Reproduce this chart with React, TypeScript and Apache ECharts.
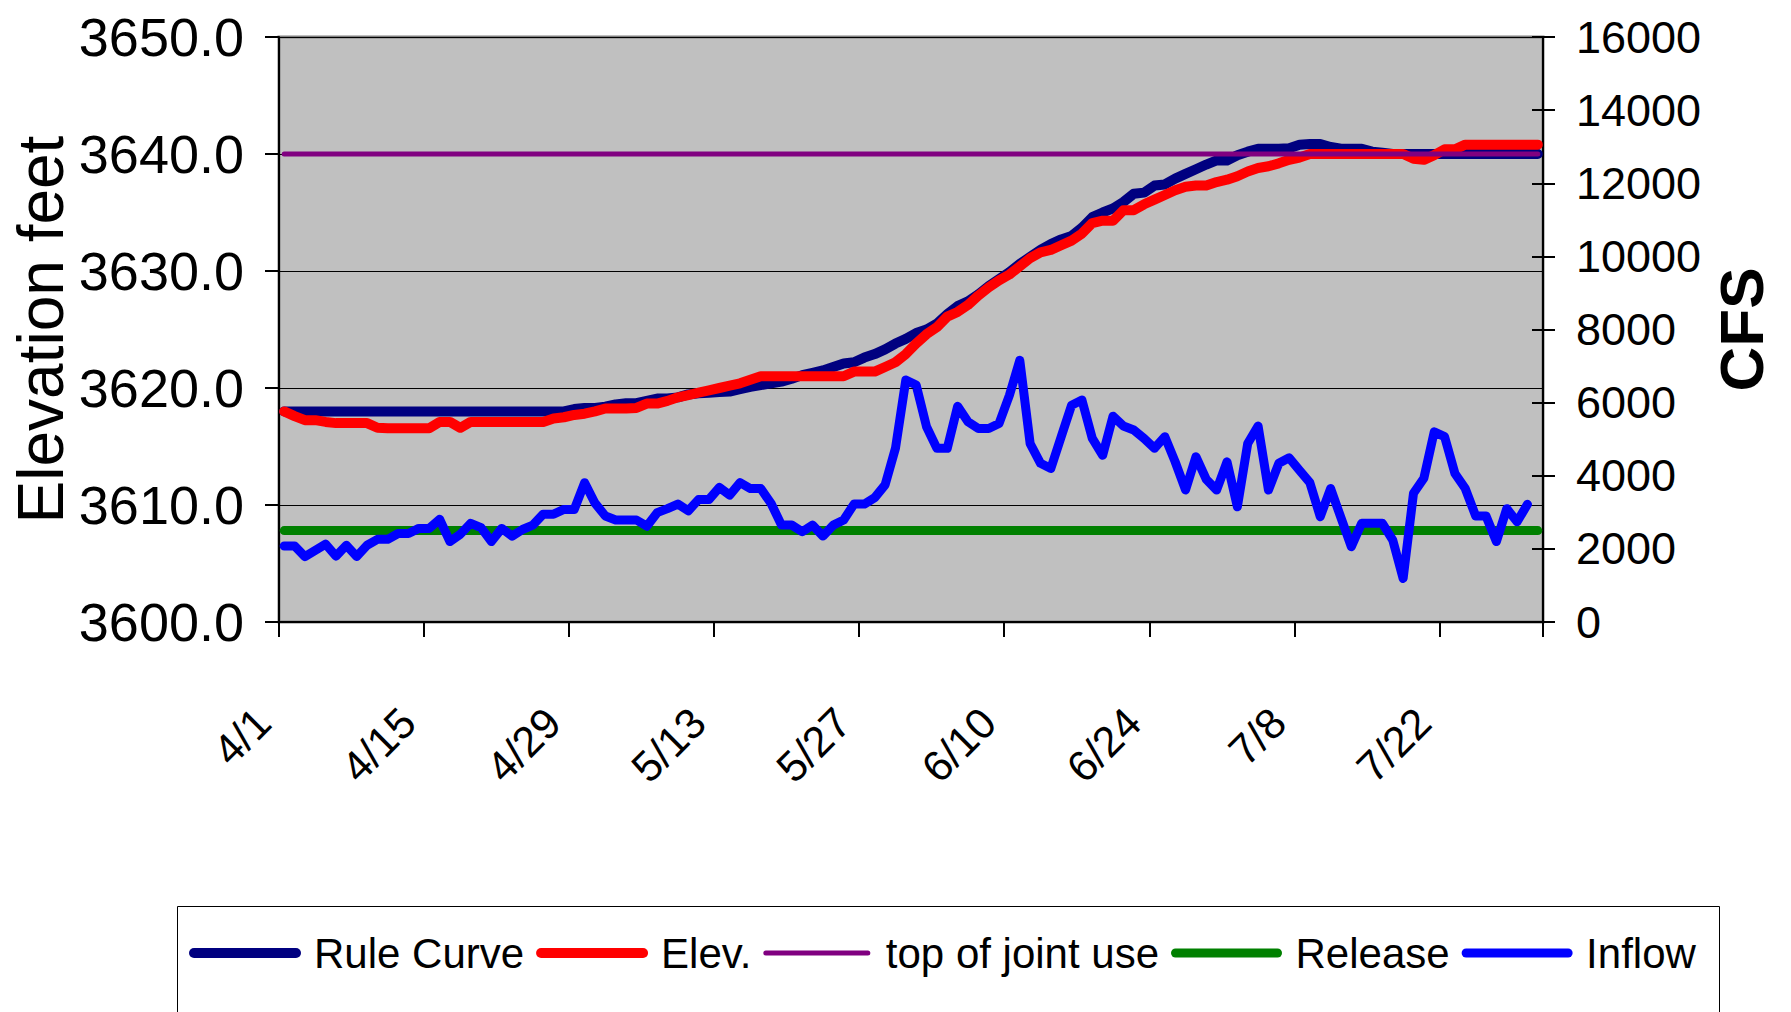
import React, { useEffect, useRef } from "react";
import * as echarts from "echarts";

// ---- categories (daily, April 1 to July 31) ----
const MONTHS = [4, 5, 6, 7];
const MONTH_DAYS = [30, 31, 30, 31];
const CATEGORIES: string[] = [];
MONTHS.forEach((m, i) => {
  for (let d = 1; d <= MONTH_DAYS[i]; d++) CATEGORIES.push(`${m}/${d}`);
});

// ---- series values ----
const RULE_CURVE = [
  3618.0, 3618.0, 3618.0, 3618.0, 3618.0, 3618.0, 3618.0, 3618.0, 3618.0, 3618.0,
  3618.0, 3618.0, 3618.0, 3618.0, 3618.0, 3618.0, 3618.0, 3618.0, 3618.0, 3618.0,
  3618.0, 3618.0, 3618.0, 3618.0, 3618.0, 3618.0, 3618.0, 3618.0, 3618.2, 3618.3,
  3618.3, 3618.4, 3618.6, 3618.7, 3618.7, 3618.9, 3619.1, 3619.1, 3619.2, 3619.45,
  3619.55, 3619.6, 3619.65, 3619.7, 3619.9, 3620.1, 3620.25, 3620.4, 3620.55, 3620.8,
  3621.1, 3621.3, 3621.5, 3621.8, 3622.1, 3622.2, 3622.6, 3622.9, 3623.3, 3623.8,
  3624.2, 3624.7, 3625.0, 3625.5, 3626.3, 3627.0, 3627.4, 3628.0, 3628.7, 3629.3,
  3629.9, 3630.6, 3631.2, 3631.8, 3632.3, 3632.7, 3633.0, 3633.7, 3634.6, 3635.0,
  3635.35, 3635.9, 3636.6, 3636.7, 3637.3, 3637.4, 3637.9, 3638.3, 3638.7, 3639.1,
  3639.45, 3639.45, 3639.9, 3640.2, 3640.45, 3640.45, 3640.45, 3640.5, 3640.8, 3640.85,
  3640.85, 3640.6, 3640.45, 3640.45, 3640.45, 3640.2, 3640.1, 3640.0, 3640.0, 3640.0,
  3640.0, 3640.0, 3640.0, 3640.0, 3640.0, 3640.0, 3640.0, 3640.0, 3640.0, 3640.0,
  3640.0, 3640.0,
];

const ELEVATION = [
  3618.0, 3617.6, 3617.25, 3617.25, 3617.1, 3617.0, 3617.0, 3617.0, 3617.0, 3616.6,
  3616.55, 3616.55, 3616.55, 3616.55, 3616.55, 3617.1, 3617.1, 3616.6, 3617.1, 3617.1,
  3617.1, 3617.1, 3617.1, 3617.1, 3617.1, 3617.1, 3617.4, 3617.5, 3617.7, 3617.8,
  3618.0, 3618.25, 3618.25, 3618.25, 3618.3, 3618.67, 3618.67, 3618.9, 3619.2, 3619.4,
  3619.6, 3619.8, 3620.0, 3620.2, 3620.4, 3620.7, 3621.0, 3621.0, 3621.0, 3621.0,
  3621.0, 3621.0, 3621.0, 3621.0, 3621.0, 3621.4, 3621.4, 3621.4, 3621.8, 3622.2,
  3622.9, 3623.8, 3624.6, 3625.2, 3626.1, 3626.5, 3627.1, 3627.9, 3628.6, 3629.2,
  3629.7, 3630.4, 3631.1, 3631.6, 3631.8, 3632.2, 3632.6, 3633.2, 3634.1, 3634.3,
  3634.3, 3635.2, 3635.2, 3635.7, 3636.1, 3636.5, 3636.9, 3637.2, 3637.3, 3637.3,
  3637.6, 3637.8, 3638.1, 3638.5, 3638.8, 3638.95, 3639.2, 3639.5, 3639.7, 3640.0,
  3640.0, 3640.0, 3640.0, 3640.0, 3640.0, 3640.0, 3640.0, 3640.0, 3640.0, 3639.6,
  3639.5, 3639.9, 3640.4, 3640.4, 3640.8, 3640.8, 3640.8, 3640.8, 3640.8, 3640.8,
  3640.8, 3640.8,
];

const INFLOW = [
  2080, 2080, 1790, 1960, 2130, 1800, 2100, 1790, 2100, 2260,
  2260, 2420, 2420, 2560, 2560, 2810, 2200, 2400, 2700, 2580,
  2200, 2560, 2350, 2530, 2650, 2950, 2950, 3080, 3080, 3810,
  3250, 2900, 2790, 2790, 2790, 2620, 2990, 3100, 3225, 3040,
  3350, 3350, 3680, 3470, 3810, 3650, 3650, 3240, 2650, 2650,
  2470, 2650, 2350, 2650, 2790, 3225, 3225, 3400, 3750, 4750,
  6620, 6480, 5340, 4750, 4750, 5900, 5475, 5290, 5290, 5430,
  6200, 7160, 4880, 4340, 4200, 5070, 5930, 6070, 5020, 4560,
  5630, 5360, 5250, 5020, 4750, 5070, 4380, 3610, 4520, 3900,
  3610, 4380, 3150, 4880, 5360, 3610, 4340, 4490, 4150, 3810,
  2880, 3650, 2850, 2060, 2700, 2700, 2700, 2240, 1190, 3520,
  3930, 5200, 5070, 4060, 3650, 2900, 2900, 2200, 3100, 2740,
  3220,
];

const TOP_OF_JOINT_USE = 3640; // feet
const RELEASE = 2500; // cfs

// ---- axis ticks ----
const ELEV_MIN = 3600;
const ELEV_MAX = 3650;
const ELEV_STEP = 10;
const CFS_MIN = 0;
const CFS_MAX = 16000;
const CFS_STEP = 2000;
const DATE_LABEL_STEP = 14;

const FONT = "'Liberation Sans', Arial, sans-serif";

export default function App() {
  const ref = useRef<HTMLDivElement>(null);

  useEffect(() => {
    if (!ref.current) return;
    const chart = echarts.init(ref.current, undefined, { renderer: "svg" });

    const lineBase = { type: "line", symbol: "none", showSymbol: false, animation: false };

    chart.setOption({
      animation: false,
      backgroundColor: "#ffffff",
      grid: {
        left: 279,
        right: 248,
        top: 37,
        bottom: 390,
        show: true,
        backgroundColor: "#C0C0C0",
        borderColor: "#808080",
        borderWidth: 3,
        containLabel: false,
        outerBoundsMode: "none",
      },
      legend: {
        left: 189,
        top: 932,
        padding: 0,
        itemWidth: 102,
        itemHeight: 12,
        itemGap: 12,
        itemStyle: { opacity: 0 },
        lineStyle: { width: "inherit", cap: "round" },
        textStyle: { fontFamily: FONT, fontSize: 42, color: "#000", padding: [0, 0, 0, 13] },
        data: ["Rule Curve", "Elev.", "top of joint use", "Release", "Inflow"],
      },
      graphic: [
        {
          type: "rect",
          shape: { x: 177.5, y: 906.5, width: 1542, height: 200 },
          style: { fill: "none", stroke: "#000", lineWidth: 1 },
          silent: true,
        },
      ],
      xAxis: {
        type: "category",
        data: CATEGORIES,
        boundaryGap: true,
        axisLine: { show: true, lineStyle: { color: "#000", width: 2 } },
        axisTick: {
          show: true,
          interval: DATE_LABEL_STEP - 1,
          length: 15,
          lineStyle: { color: "#000", width: 2 },
        },
        axisLabel: {
          interval: DATE_LABEL_STEP - 1,
          rotate: 45,
          margin: 72,
          padding: [0, 30, 0, 0],
          fontFamily: FONT,
          fontSize: 43,
          color: "#000",
        },
        splitLine: { show: false },
      },
      yAxis: [
        {
          type: "value",
          position: "left",
          min: ELEV_MIN,
          max: ELEV_MAX,
          interval: ELEV_STEP,
          name: "Elevation feet",
          nameLocation: "middle",
          nameGap: 206,
          nameRotate: 90,
          nameMoveOverlap: false,
          nameTextStyle: { fontFamily: FONT, fontSize: 64, color: "#000" },
          axisLine: { show: true, lineStyle: { color: "#000", width: 2 } },
          axisTick: { show: true, length: 14, lineStyle: { color: "#000", width: 2 } },
          axisLabel: {
            margin: 35,
            fontFamily: FONT,
            fontSize: 54,
            color: "#000",
            formatter: (v: number) => v.toFixed(1),
          },
          splitLine: { show: true, lineStyle: { color: "#000", width: 1 } },
        },
        {
          type: "value",
          position: "right",
          min: CFS_MIN,
          max: CFS_MAX,
          interval: CFS_STEP,
          name: "CFS",
          nameLocation: "middle",
          nameGap: 167,
          nameRotate: 90,
          nameMoveOverlap: false,
          nameTextStyle: { fontFamily: FONT, fontSize: 62, fontWeight: "bold", color: "#000" },
          axisLine: { show: true, lineStyle: { color: "#000", width: 2 } },
          axisTick: { show: true, length: 12, lineStyle: { color: "#000", width: 2 } },
          axisLabel: {
            margin: 33,
            fontFamily: FONT,
            fontSize: 45,
            color: "#000",
            formatter: (v: number) => String(v),
          },
          splitLine: { show: false },
        },
        {
          type: "value",
          position: "right",
          min: CFS_MIN,
          max: CFS_MAX,
          interval: CFS_STEP,
          axisLine: { show: false },
          axisTick: { show: true, inside: true, length: 11, lineStyle: { color: "#000", width: 2 } },
          axisLabel: { show: false },
          splitLine: { show: false },
        },
      ],
      series: [
        {
          ...lineBase,
          name: "Rule Curve",
          yAxisIndex: 0,
          data: RULE_CURVE,
          itemStyle: { color: "#000080" },
          lineStyle: { color: "#000080", width: 10, cap: "round", join: "round" },
          z: 2,
        },
        {
          ...lineBase,
          name: "Elev.",
          yAxisIndex: 0,
          data: ELEVATION,
          itemStyle: { color: "#FF0000" },
          lineStyle: { color: "#FF0000", width: 10, cap: "round", join: "round" },
          z: 3,
        },
        {
          ...lineBase,
          name: "top of joint use",
          yAxisIndex: 0,
          data: CATEGORIES.map(() => TOP_OF_JOINT_USE),
          itemStyle: { color: "#800080" },
          lineStyle: { color: "#800080", width: 5, cap: "round", join: "round" },
          z: 4,
        },
        {
          ...lineBase,
          name: "Release",
          yAxisIndex: 1,
          data: CATEGORIES.map(() => RELEASE),
          itemStyle: { color: "#008000" },
          lineStyle: { color: "#008000", width: 9, cap: "round", join: "round" },
          z: 5,
        },
        {
          ...lineBase,
          name: "Inflow",
          yAxisIndex: 1,
          data: INFLOW,
          itemStyle: { color: "#0000FF" },
          lineStyle: { color: "#0000FF", width: 9, cap: "round", join: "round" },
          z: 6,
        },
      ],
    });

    return () => chart.dispose();
  }, []);

  return (
    <div
      ref={ref}
      style={{ position: "fixed", left: 0, top: 0, width: 1791, height: 1012, background: "#fff" }}
    />
  );
}
